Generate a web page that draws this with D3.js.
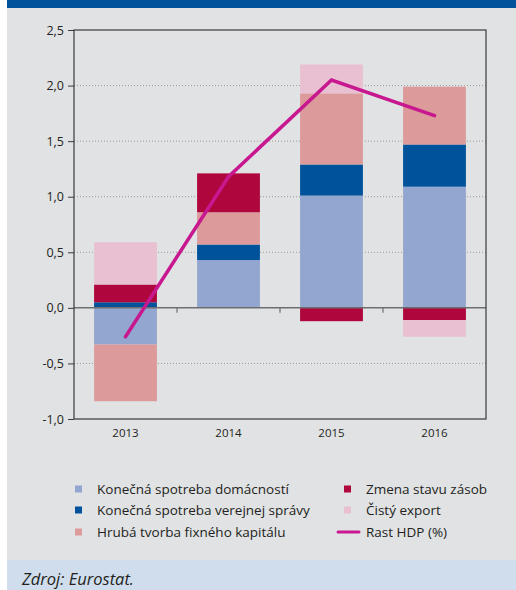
<!DOCTYPE html>
<head>
    <meta charset="utf-8">
    <script src="https://d3js.org/d3.v7.min.js"></script>
    <style>
        body { margin:0; background:#fff; }
        text { font-family: "Open Sans", "Noto Sans", sans-serif; fill:#231f20; }
    </style>
</head>
<body>
<svg id="chart" width="516" height="590"></svg>
<script>
    // data
    var years = ["2013", "2014", "2015", "2016"];
    var households = [-0.33, 0.43, 1.01, 1.09];
    var government = [0.05, 0.14, 0.28, 0.38];
    var investment = [-0.51, 0.29, 0.64, 0.52];
    var inventories = [0.16, 0.35, -0.12, -0.11];
    var netExport = [0.38, 0.0, 0.26, -0.15];
    var gdpGrowth = [-0.26, 1.18, 2.05, 1.73];
    var yTicks = [-1.0, -0.5, 0.0, 0.5, 1.0, 1.5, 2.0, 2.5];

    var series = [
        {name: "Konečná spotreba domácností", values: households, color: "#93a6d0"},
        {name: "Konečná spotreba verejnej správy", values: government, color: "#00529b"},
        {name: "Hrubá tvorba fixného kapitálu", values: investment, color: "#dd9a9a"},
        {name: "Zmena stavu zásob", values: inventories, color: "#b0063e"},
        {name: "Čistý export", values: netExport, color: "#e8c0d2"}
    ];

    var svg = d3.select("#chart");

    // page background pieces
    svg.append("rect").attr("x", 7).attr("y", 0).attr("width", 509).attr("height", 590).attr("fill", "#e1e2e4");
    svg.append("rect").attr("x", 7).attr("y", 0).attr("width", 509).attr("height", 8).attr("fill", "#00529b");
    svg.append("rect").attr("x", 7).attr("y", 560).attr("width", 509).attr("height", 30).attr("fill", "#cfdded");
    svg.append("text").attr("x", 22).attr("y", 585)
        .style("font-style", "italic").style("font-size", "16.5px").text("Zdroj: Eurostat.");

    var plotL = 74, plotR = 486, plotT = 30, plotB = 419;
    var x = d3.scaleBand().domain(years).range([plotL, plotR]).paddingInner(0.39).paddingOuter(0.195);
    var y = d3.scaleLinear().domain([-1, 2.5]).range([plotB, plotT]);

    // dotted grid
    svg.append("g").selectAll("line")
        .data(yTicks.filter(function(d) { return d != 0 && d != 2.5 && d != -1; }))
        .enter().append("line")
        .attr("x1", plotL).attr("x2", plotR)
        .attr("y1", function(d) { return y(d); }).attr("y2", function(d) { return y(d); })
        .attr("stroke", "#9a9a9a").attr("stroke-width", 1).attr("stroke-dasharray", "1,2");

    // stacked bars, positives up, negatives down
    years.forEach(function(yr, i) {
        var pos = 0, neg = 0;
        series.forEach(function(s) {
            var v = s.values[i];
            if (v == 0) return;
            var y0, y1;
            if (v > 0) { y0 = pos; y1 = pos + v; pos = y1; }
            else { y0 = neg; y1 = neg + v; neg = y1; }
            svg.append("rect")
                .attr("x", x(yr)).attr("width", x.bandwidth())
                .attr("y", y(Math.max(y0, y1)))
                .attr("height", Math.abs(y(y0) - y(y1)))
                .attr("fill", s.color);
        });
    });

    // zero line with ticks between categories
    svg.append("line").attr("x1", plotL).attr("x2", plotR).attr("y1", y(0)).attr("y2", y(0))
        .attr("stroke", "#6e6e70").attr("stroke-width", 1.5);
    svg.append("g").selectAll("line").data(years.slice(1)).enter().append("line")
        .attr("x1", function(d) { return x(d) - x.step() * x.paddingInner() / 2; })
        .attr("x2", function(d) { return x(d) - x.step() * x.paddingInner() / 2; })
        .attr("y1", y(0)).attr("y2", y(0) + 5)
        .attr("stroke", "#6e6e70").attr("stroke-width", 1.2);

    // frame
    svg.append("rect").attr("x", plotL).attr("y", plotT).attr("width", plotR - plotL).attr("height", plotB - plotT)
        .attr("fill", "none").attr("stroke", "#3a3a3a").attr("stroke-width", 1.2);

    // y axis
    var yAxis = svg.append("g").attr("transform", "translate(" + plotL + ",0)")
        .call(d3.axisLeft(y).tickValues(yTicks).tickSize(6).tickPadding(4)
            .tickFormat(function(d) { return d3.format(".1f")(d).replace(".", ",").replace("−", "-"); }));
    yAxis.select(".domain").remove();
    yAxis.selectAll("line").attr("stroke", "#3a3a3a");
    yAxis.selectAll("text").style("font-size", "12.5px").attr("fill", "#231f20")
        .style("font-family", "'Open Sans', sans-serif");

    // category labels
    var xAxis = svg.append("g").attr("transform", "translate(0," + plotB + ")")
        .call(d3.axisBottom(x).tickSize(0).tickPadding(10));
    xAxis.select(".domain").remove();
    xAxis.selectAll("text").style("font-size", "11.5px").attr("fill", "#231f20")
        .style("font-family", "'Open Sans', sans-serif");

    // GDP growth line
    var line = d3.line()
        .x(function(d, i) { return x(years[i]) + x.bandwidth() / 2; })
        .y(function(d) { return y(d); });
    svg.append("path").datum(gdpGrowth).attr("d", line)
        .attr("fill", "none").attr("stroke", "#c7188f").attr("stroke-width", 3.5).attr("stroke-linecap", "round");

    // legend
    var legendRows = [489, 510, 532];
    var legendItems = series.map(function(s) { return {name: s.name, color: s.color, type: "box"}; });
    legendItems.push({name: "Rast HDP (%)", color: "#c7188f", type: "line"});
    var legend = svg.append("g").selectAll("g").data(legendItems).enter().append("g")
        .attr("transform", function(d, i) {
            return "translate(" + (i < 3 ? 75 : 344) + "," + legendRows[i % 3] + ")";
        });
    legend.filter(function(d) { return d.type == "box"; }).append("rect")
        .attr("x", 0).attr("y", -3.5).attr("width", 7).attr("height", 7).attr("fill", function(d) { return d.color; });
    legend.filter(function(d) { return d.type == "line"; }).append("line")
        .attr("x1", -6).attr("x2", 15).attr("y1", 0).attr("y2", 0)
        .attr("stroke", function(d) { return d.color; }).attr("stroke-width", 3).attr("stroke-linecap", "round");
    legend.append("text").attr("x", 22).attr("y", 0).attr("dy", "0.35em")
        .style("font-size", "13.5px").text(function(d) { return d.name; });
</script>
</body>
